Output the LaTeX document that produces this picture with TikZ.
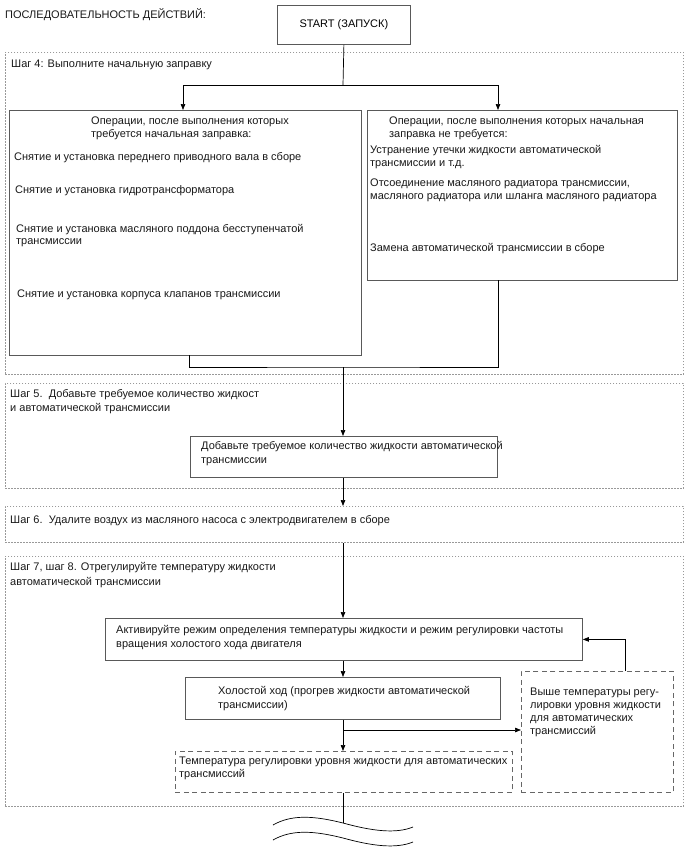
\documentclass[tikz,border=0pt]{standalone}
\usepackage{fontspec}
\setmainfont{Liberation Sans}
\usetikzlibrary{arrows.meta}
\begin{document}
\begin{tikzpicture}[x=1bp,y=-1bp,
  box/.style={draw=black!65, line width=0.8bp, fill=white, inner sep=0, anchor=north west},
  outer/.style={draw=black!40, line width=0.9bp, dash pattern=on 1.6bp off 1.4bp, inner sep=0, anchor=north west},
  dbox/.style={draw=black!60, line width=0.8bp, dash pattern=on 5bp off 3.5bp, inner sep=0, anchor=north west},
  line/.style={draw=black, line width=0.7bp},
  arr/.style={line, -{Triangle[length=6bp,width=4.5bp]}},
  txt/.style={font=\fontsize{11bp}{13bp}\selectfont, inner sep=0, anchor=base west, text=black!90}]
\useasboundingbox (0,0) rectangle (688,852);

% outer dotted step frames
\node[outer, minimum width=678bp, minimum height=322bp] (st4) at (5,52) {};
\node[outer, minimum width=678bp, minimum height=105bp] (st5) at (5,383) {};
\node[outer, minimum width=678bp, minimum height=36bp] (st6) at (5,506) {};
\node[outer, minimum width=678bp, minimum height=250bp] (st7) at (5,556) {};

% title and start
\node[txt] (title) at (5,18) {ПОСЛЕДОВАТЕЛЬНОСТЬ ДЕЙСТВИЙ:};
\node[box, minimum width=133bp, minimum height=39bp, font=\fontsize{11bp}{13bp}\selectfont] (start) at (277,5) {START (ЗАПУСК)};

% step 4
\node[txt] (l4) at (11,67) {Шаг 4: Выполните начальную заправку};
\node[box, minimum width=352bp, minimum height=245bp] (L) at (9,110) {};
\node[box, minimum width=310bp, minimum height=170bp] (R) at (367,110) {};

\node[txt] (lh1) at (91,124) {Операции, после выполнения которых};
\node[txt] (lh2) at (91,137) {требуется начальная заправка:};
\node[txt] (li1) at (14,160) {Снятие и установка переднего приводного вала в сборе};
\node[txt] (li2) at (15,193) {Снятие и установка гидротрансформатора};
\node[txt] (li3) at (16,232) {Снятие и установка масляного поддона бесступенчатой};
\node[txt] (li4) at (16,244) {трансмиссии};
\node[txt] (li5) at (17,297) {Снятие и установка корпуса клапанов трансмиссии};

\node[txt] (rh1) at (389,124) {Операции, после выполнения которых начальная};
\node[txt] (rh2) at (389,137) {заправка не требуется:};
\node[txt] (ri1) at (370,153) {Устранение утечки жидкости автоматической};
\node[txt] (ri2) at (370,166) {трансмиссии и т.д.};
\node[txt] (ri3) at (370,186) {Отсоединение масляного радиатора трансмиссии,};
\node[txt] (ri4) at (370,199) {масляного радиатора или шланга масляного радиатора};
\node[txt] (ri5) at (370,251) {Замена автоматической трансмиссии в сборе};

% step 5
\node[txt] (l5a) at (10,397) {Шаг 5.\ \ Добавьте требуемое количество жидкост};
\node[txt] (l5b) at (10,411) {и автоматической трансмиссии};
\node[box, minimum width=307bp, minimum height=41bp] (S5) at (190,436) {};
\node[txt] (s5a) at (201,449) {Добавьте требуемое количество жидкости автоматической};
\node[txt] (s5b) at (201,463) {трансмиссии};

% step 6
\node[txt] (l6) at (10,523) {Шаг 6.\ \ Удалите воздух из масляного насоса с электродвигателем в сборе};

% step 7
\node[txt] (l7a) at (10,570) {Шаг 7, шаг 8. Отрегулируйте температуру жидкости};
\node[txt] (l7b) at (10,585) {автоматической трансмиссии};
\node[box, minimum width=477bp, minimum height=42bp] (act) at (105,618) {};
\node[txt] (acta) at (116,633) {Активируйте режим определения температуры жидкости и режим регулировки частоты};
\node[txt] (actb) at (116,647) {вращения холостого хода двигателя};
\node[box, minimum width=315bp, minimum height=42bp] (idle) at (185,677) {};
\node[txt] (idla) at (218,694) {Холостой ход (прогрев жидкости автоматической};
\node[txt] (idlb) at (218,708) {трансмиссии)};
\node[dbox, minimum width=152bp, minimum height=121bp] (rbox) at (521,671) {};
\node[txt] (rba) at (530,695) {Выше температуры регу-};
\node[txt] (rbb) at (530,708) {лировки уровня жидкости};
\node[txt] (rbc) at (530,721) {для автоматических};
\node[txt] (rbd) at (530,734) {трансмиссий};
\node[dbox, minimum width=337bp, minimum height=41bp] (bot) at (175,751) {};
\node[txt] (bta) at (179,764) {Температура регулировки уровня жидкости для автоматических};
\node[txt] (btb) at (179,777) {трансмиссий};

% connectors
\coordinate (j1) at (343,85);
\coordinate (aL) at (183,110);
\coordinate (aR) at (498,110);
\draw[line] (start.south) -- (j1);
\draw[arr] (j1) -| (aL);
\draw[arr] (j1) -| (aR);

\coordinate (bL) at (189,355);
\coordinate (bR) at (498,280);
\coordinate (m1) at (343,367);
\draw[line] (bL) |- (m1) -| (bR);
\draw[arr] (m1) -- (S5.north -| m1);

\draw[arr] (S5.south -| m1) -- (st6.north -| m1);
\draw[arr] (st6.south -| m1) -- (act.north -| m1);
\draw[arr] (act.south -| m1) -- (idle.north -| m1);
\draw[arr] (idle.south -| m1) -- (bot.north -| m1);
\coordinate (br) at (343,730);
\draw[arr] (br) -- (rbox.west |- br);
\coordinate (up) at (625,671);
\draw[arr] (up) |- (act.east);

\coordinate (wv) at (343,823);
\draw[line] (bot.south -| m1) -- (wv);
\draw[line] (273,825) .. controls (292,814) and (315,816) .. (wv) .. controls (372,831) and (396,834) .. (413,827);
\draw[line] (273,840) .. controls (292,829) and (315,831) .. (343,838) .. controls (372,846) and (396,849) .. (413,842);
\end{tikzpicture}
\end{document}
